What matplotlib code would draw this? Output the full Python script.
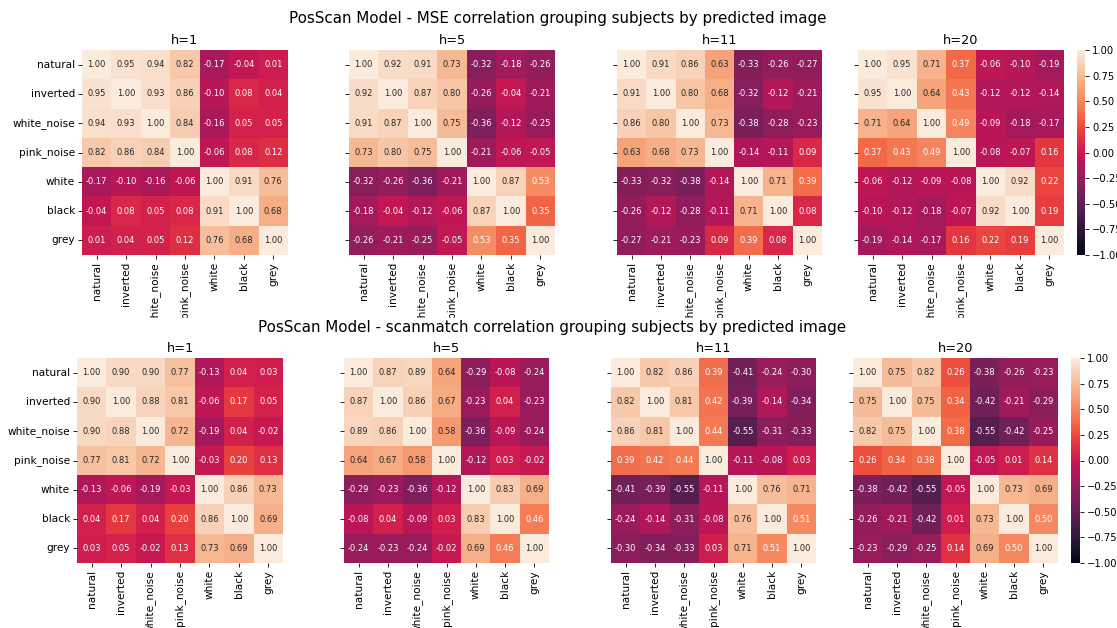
import matplotlib
matplotlib.use("Agg")
import matplotlib.pyplot as plt
import seaborn as sns
import numpy as np
import pandas as pd
from matplotlib.patches import Rectangle

labels = ["natural", "inverted", "white_noise", "pink_noise", "white", "black", "grey"]
horizons = ["h=1", "h=5", "h=11", "h=20"]
title_mse = "PosScan Model - MSE correlation grouping subjects by predicted image"
title_sm = "PosScan Model - scanmatch correlation grouping subjects by predicted image"

mse_h1 = [
    [1.00, 0.95, 0.94, 0.82, -0.17, -0.04, 0.01],
    [0.95, 1.00, 0.93, 0.86, -0.10, 0.08, 0.04],
    [0.94, 0.93, 1.00, 0.84, -0.16, 0.05, 0.05],
    [0.82, 0.86, 0.84, 1.00, -0.06, 0.08, 0.12],
    [-0.17, -0.10, -0.16, -0.06, 1.00, 0.91, 0.76],
    [-0.04, 0.08, 0.05, 0.08, 0.91, 1.00, 0.68],
    [0.01, 0.04, 0.05, 0.12, 0.76, 0.68, 1.00],
]
mse_h5 = [
    [1.00, 0.92, 0.91, 0.73, -0.32, -0.18, -0.26],
    [0.92, 1.00, 0.87, 0.80, -0.26, -0.04, -0.21],
    [0.91, 0.87, 1.00, 0.75, -0.36, -0.12, -0.25],
    [0.73, 0.80, 0.75, 1.00, -0.21, -0.06, -0.05],
    [-0.32, -0.26, -0.36, -0.21, 1.00, 0.87, 0.53],
    [-0.18, -0.04, -0.12, -0.06, 0.87, 1.00, 0.35],
    [-0.26, -0.21, -0.25, -0.05, 0.53, 0.35, 1.00],
]
mse_h11 = [
    [1.00, 0.91, 0.86, 0.63, -0.33, -0.26, -0.27],
    [0.91, 1.00, 0.80, 0.68, -0.32, -0.12, -0.21],
    [0.86, 0.80, 1.00, 0.73, -0.38, -0.28, -0.23],
    [0.63, 0.68, 0.73, 1.00, -0.14, -0.11, 0.09],
    [-0.33, -0.32, -0.38, -0.14, 1.00, 0.71, 0.39],
    [-0.26, -0.12, -0.28, -0.11, 0.71, 1.00, 0.08],
    [-0.27, -0.21, -0.23, 0.09, 0.39, 0.08, 1.00],
]
mse_h20 = [
    [1.00, 0.95, 0.71, 0.37, -0.06, -0.10, -0.19],
    [0.95, 1.00, 0.64, 0.43, -0.12, -0.12, -0.14],
    [0.71, 0.64, 1.00, 0.49, -0.09, -0.18, -0.17],
    [0.37, 0.43, 0.49, 1.00, -0.08, -0.07, 0.16],
    [-0.06, -0.12, -0.09, -0.08, 1.00, 0.92, 0.22],
    [-0.10, -0.12, -0.18, -0.07, 0.92, 1.00, 0.19],
    [-0.19, -0.14, -0.17, 0.16, 0.22, 0.19, 1.00],
]
sm_h1 = [
    [1.00, 0.90, 0.90, 0.77, -0.13, 0.04, 0.03],
    [0.90, 1.00, 0.88, 0.81, -0.06, 0.17, 0.05],
    [0.90, 0.88, 1.00, 0.72, -0.19, 0.04, -0.02],
    [0.77, 0.81, 0.72, 1.00, -0.03, 0.20, 0.13],
    [-0.13, -0.06, -0.19, -0.03, 1.00, 0.86, 0.73],
    [0.04, 0.17, 0.04, 0.20, 0.86, 1.00, 0.69],
    [0.03, 0.05, -0.02, 0.13, 0.73, 0.69, 1.00],
]
sm_h5 = [
    [1.00, 0.87, 0.89, 0.64, -0.29, -0.08, -0.24],
    [0.87, 1.00, 0.86, 0.67, -0.23, 0.04, -0.23],
    [0.89, 0.86, 1.00, 0.58, -0.36, -0.09, -0.24],
    [0.64, 0.67, 0.58, 1.00, -0.12, 0.03, -0.02],
    [-0.29, -0.23, -0.36, -0.12, 1.00, 0.83, 0.69],
    [-0.08, 0.04, -0.09, 0.03, 0.83, 1.00, 0.46],
    [-0.24, -0.23, -0.24, -0.02, 0.69, 0.46, 1.00],
]
sm_h11 = [
    [1.00, 0.82, 0.86, 0.39, -0.41, -0.24, -0.30],
    [0.82, 1.00, 0.81, 0.42, -0.39, -0.14, -0.34],
    [0.86, 0.81, 1.00, 0.44, -0.55, -0.31, -0.33],
    [0.39, 0.42, 0.44, 1.00, -0.11, -0.08, 0.03],
    [-0.41, -0.39, -0.55, -0.11, 1.00, 0.76, 0.71],
    [-0.24, -0.14, -0.31, -0.08, 0.76, 1.00, 0.51],
    [-0.30, -0.34, -0.33, 0.03, 0.71, 0.51, 1.00],
]
sm_h20 = [
    [1.00, 0.75, 0.82, 0.26, -0.38, -0.26, -0.23],
    [0.75, 1.00, 0.75, 0.34, -0.42, -0.21, -0.29],
    [0.82, 0.75, 1.00, 0.38, -0.55, -0.42, -0.25],
    [0.26, 0.34, 0.38, 1.00, -0.05, 0.01, 0.14],
    [-0.38, -0.42, -0.55, -0.05, 1.00, 0.73, 0.69],
    [-0.26, -0.21, -0.42, 0.01, 0.73, 1.00, 0.50],
    [-0.23, -0.29, -0.25, 0.14, 0.69, 0.50, 1.00],
]

W, H = 1117, 628
fig = plt.figure(figsize=(W / 100, H / 100), dpi=100)


def rect(x0, y0, x1, y1):
    return [x0 / W, 1 - y1 / H, (x1 - x0) / W, (y1 - y0) / H]


rows = [
    dict(mats=[mse_h1, mse_h5, mse_h11, mse_h20], title=title_mse, ty=18, top=50, bot=255,
         xs=[(82, 288), (349, 555), (617, 822), (858, 1064)], cb=(1077, 1085), tx=558, z=0),
    dict(mats=[sm_h1, sm_h5, sm_h11, sm_h20], title=title_sm, ty=327, top=358, bot=563,
         xs=[(77, 283), (344, 549), (611, 816), (853, 1058)], cb=(1071, 1080), tx=552, z=2),
]

# white band that clips the overflowing tick labels of the top row
fig.patches.append(Rectangle((0, 0), 1, 1 - 318 / H, transform=fig.transFigure,
                             facecolor="white", edgecolor="none", zorder=1))

tick_fs = 7.6
for row in rows:
    cax = fig.add_axes(rect(row["cb"][0], row["top"], row["cb"][1], row["bot"]), zorder=row["z"])
    for i, (mat, (x0, x1)) in enumerate(zip(row["mats"], row["xs"])):
        ax = fig.add_axes(rect(x0, row["top"], x1, row["bot"]), zorder=row["z"])
        df = pd.DataFrame(mat, index=labels, columns=labels)
        last = i == 3
        sns.heatmap(df, ax=ax, annot=True, fmt=".2f", vmin=-1, vmax=1, cmap="rocket",
                    cbar=last, cbar_ax=cax if last else None,
                    annot_kws={"fontsize": 6.0}, square=False)
        ax.set_title(horizons[i], fontsize=9.3, pad=4)
        ax.tick_params(axis="both", labelsize=tick_fs, length=3, width=0.6, pad=2)
        ax.set_xticklabels(labels, rotation=90)
        if i == 0:
            ax.set_yticklabels(labels, rotation=0)
        else:
            ax.set_yticklabels([""] * len(labels))
        ax.set_xlabel("")
        ax.set_ylabel("")
    cax.tick_params(labelsize=tick_fs - 0.4, length=3, width=0.6, pad=2)
    cax.set_yticks([-1, -0.75, -0.5, -0.25, 0, 0.25, 0.5, 0.75, 1])
    cax.set_yticklabels(["\u22121.00", "\u22120.75", "\u22120.50", "\u22120.25", "0.00",
                         "0.25", "0.50", "0.75", "1.00"])
    fig.text(row["tx"] / W, 1 - row["ty"] / H, row["title"], ha="center", va="center",
             fontsize=10.9, zorder=3)

fig.savefig("out.png", dpi=100)
